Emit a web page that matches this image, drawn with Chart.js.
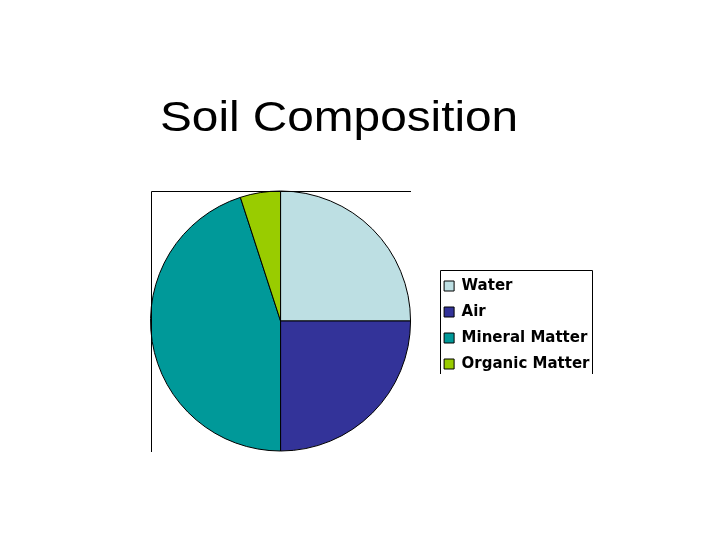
<!DOCTYPE html>
<html>
<head>
<meta charset="utf-8">
<script src="https://cdn.jsdelivr.net/npm/chart.js@4/dist/chart.umd.min.js"></script>
<style>
  html, body { margin: 0; padding: 0; background: #fff; }
  #wrap { position: relative; width: 720px; height: 540px; }
  #title {
    position: absolute; left: 160px; top: 91px;
    font-family: "Liberation Sans", Arial, sans-serif; font-size: 43px;
    line-height: 50px; color: #000; white-space: nowrap;
    transform: scaleX(1.11); transform-origin: 0 0;
  }
  canvas { position: absolute; left: 0; top: 0; }
</style>
</head>
<body>
<div id="wrap">
  <canvas id="soil_Chart" width="720" height="540"></canvas>
  <div id="title">Soil Composition</div>
</div>
<script>
// donnees du graphique
const categories = ['Water', 'Air', 'Mineral Matter', 'Organic Matter'];
const values = [25, 25, 45, 5];
const colors = ['#BDDFE3', '#333399', '#009999', '#99CC00'];

// cadre du graphique (haut + gauche) et bordure de la legende
const framePlugin = {
  id: 'frame',
  afterDraw(chart) {
    const ctx = chart.ctx;
    const arc = chart.getDatasetMeta(0).data[0];
    const r = arc.outerRadius;
    ctx.save();
    ctx.strokeStyle = '#000';
    ctx.lineWidth = 1;
    ctx.beginPath();
    ctx.moveTo(Math.round(arc.x - r) + 0.5, Math.round(arc.y + r) + 1);
    ctx.lineTo(Math.round(arc.x - r) + 0.5, Math.round(arc.y - r) + 0.5);
    ctx.lineTo(Math.round(arc.x + r), Math.round(arc.y - r) + 0.5);
    ctx.stroke();

    // bordure legende (le bas est coupe comme sur l'original)
    const boxes = chart.legend.legendHitBoxes;
    const first = boxes[0], last = boxes[boxes.length - 1];
    const left = Math.round(first.left - 4) + 0.5;
    const top = Math.round(first.top - 9) + 0.5;
    const right = Math.round(Math.max(...boxes.map(b => b.left + b.width)) + 2) + 0.5;
    const bottom = Math.round(last.top + last.height + 2);
    ctx.beginPath();
    ctx.moveTo(left, bottom);
    ctx.lineTo(left, top);
    ctx.lineTo(right, top);
    ctx.lineTo(right, bottom);
    ctx.stroke();
    ctx.restore();
  }
};

const ctx_pie = document.getElementById('soil_Chart').getContext('2d');
const myChartPie = new Chart(ctx_pie, {
  type: 'pie',
  data: {
    labels: categories,
    datasets: [{
      data: values,
      backgroundColor: colors,
      borderColor: '#000',
      borderWidth: 1
    }]
  },
  options: {
    responsive: false,
    animation: false,
    layout: {
      padding: { left: 128, right: 120.5, top: 190.5, bottom: 88.5 }
    },
    plugins: {
      title: { display: false },
      tooltip: { enabled: false },
      legend: {
        position: 'right',
        // titre vide : sert juste a descendre les items de 4px
        title: {
          display: true,
          text: ' ',
          font: { size: 1, lineHeight: 1 },
          padding: { top: 7, bottom: 0 }
        },
        labels: {
          color: '#000',
          font: { family: 'DejaVu Sans', size: 15, weight: 'bold' },
          boxWidth: 10,
          boxHeight: 10,
          padding: 11
        }
      }
    }
  },
  plugins: [framePlugin]
});
</script>
</body>
</html>
